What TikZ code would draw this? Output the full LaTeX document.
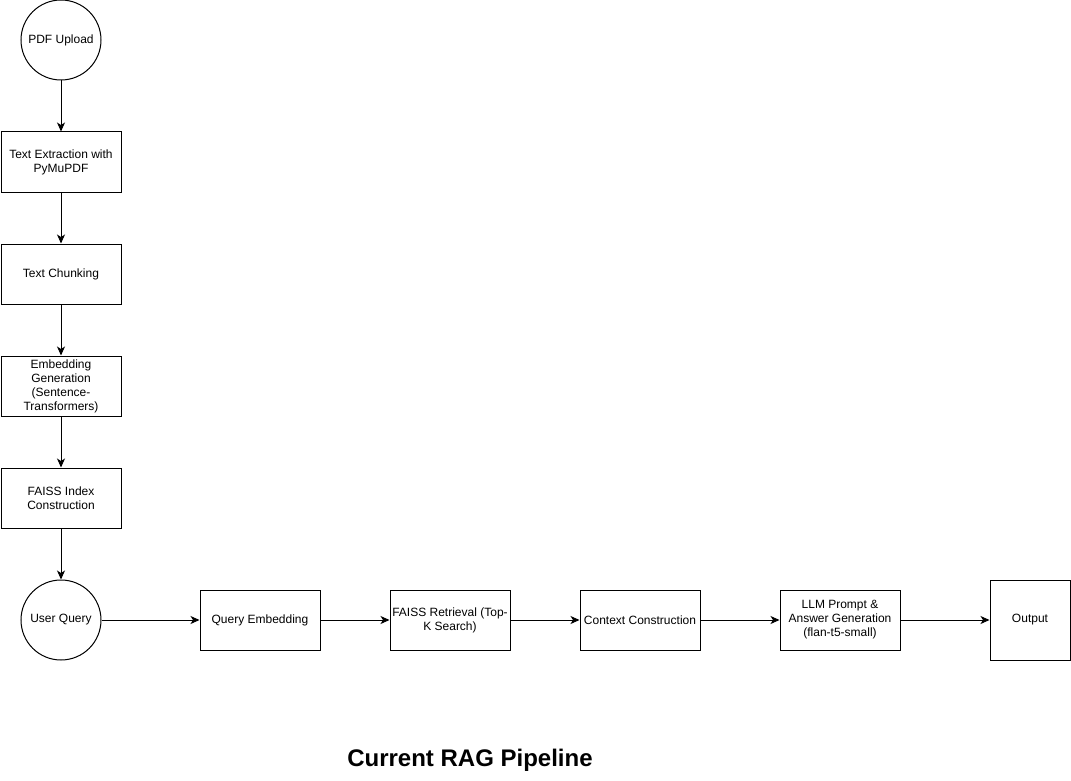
\documentclass[tikz,border=0pt]{standalone}
\usepackage{fontspec}
\setmainfont{Liberation Sans}
\usetikzlibrary{arrows.meta}
\begin{document}
\begin{tikzpicture}[x=1pt,y=-1pt,
  every node/.style={font=\fontsize{12}{14}\selectfont, align=center, inner sep=2pt},
  procbox/.style={draw, line width=1pt, minimum width=120pt, minimum height=60pt},
  roundnode/.style={draw, circle, line width=1pt, minimum size=80pt},
  conn/.style={draw, line width=1pt, -{Stealth[length=9pt,width=8pt,inset=2.5pt]}}
]
\useasboundingbox (0,0) rectangle (1071,781);
\node[roundnode] (pdf) at (61,40) {PDF Upload};
\node[procbox] (te) at (61,162) {Text Extraction with\\PyMuPDF};
\node[procbox] (tc) at (61,274) {Text Chunking};
\node[procbox] (eg) at (61,386) {Embedding\\Generation\\(Sentence-\\Transformers)};
\node[procbox] (fi) at (61,498) {FAISS Index\\Construction};
\node[roundnode] (uq) at (61,620) {User Query};
\node[procbox] (qe) at (260,620) {Query Embedding};
\node[procbox] (fr) at (450,620) {FAISS Retrieval (Top-\\K Search)};
\node[procbox] (cc) at (640,620) {Context Construction};
\node[procbox] (llm) at (840,620) {LLM Prompt \&\\Answer Generation\\(flan-t5-small)};
\node[draw, line width=1pt, minimum width=80pt, minimum height=80pt] (out) at (1030,620) {Output};
\node[font=\fontsize{24}{28}\selectfont\bfseries] (title) at (470,760) {Current RAG Pipeline};
\draw[conn] (pdf) -- (te);
\draw[conn] (te) -- (tc);
\draw[conn] (tc) -- (eg);
\draw[conn] (eg) -- (fi);
\draw[conn] (fi) -- (uq);
\draw[conn] (uq) -- (qe);
\draw[conn] (qe) -- (fr);
\draw[conn] (fr) -- (cc);
\draw[conn] (cc) -- (llm);
\draw[conn] (llm) -- (out);
\end{tikzpicture}
\end{document}
